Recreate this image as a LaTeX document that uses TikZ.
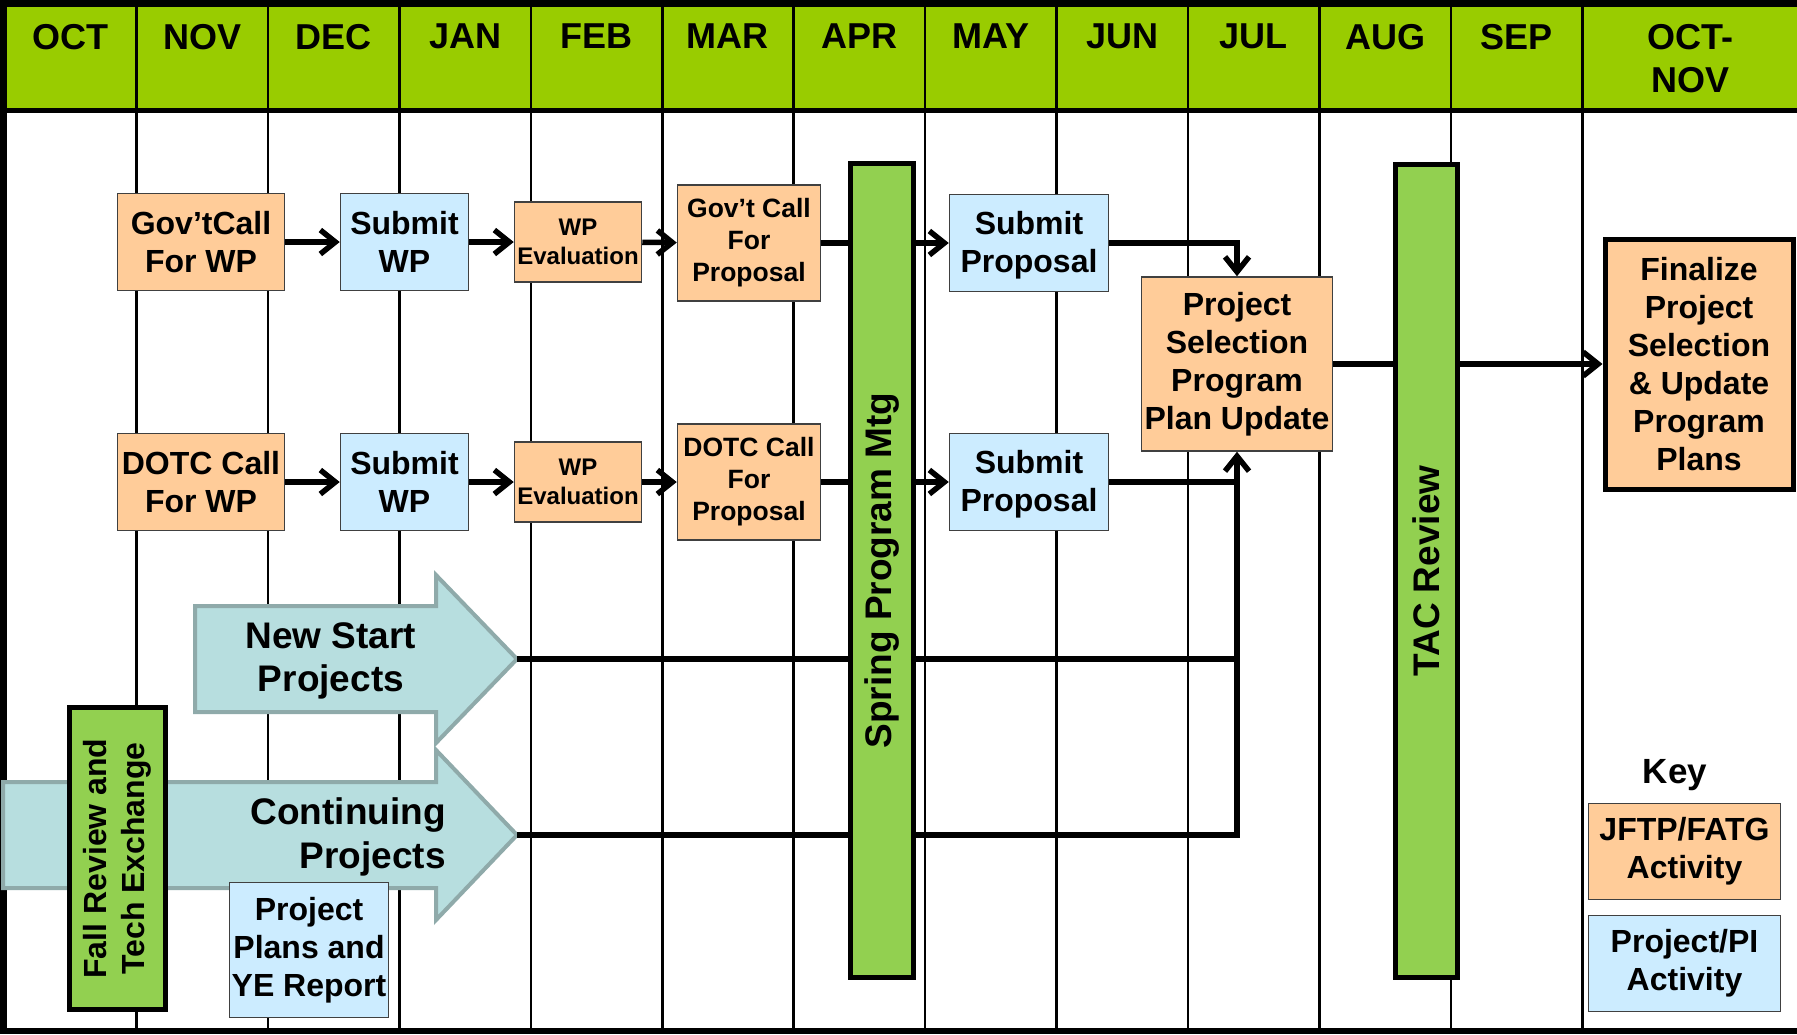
\documentclass[tikz,border=0pt]{standalone}
\usepackage{fontspec}
\setmainfont{Liberation Sans}
\usetikzlibrary{positioning,arrows.meta}

\definecolor{hdrgreen}{HTML}{99CC00}
\definecolor{bargreen}{HTML}{92D050}
\definecolor{peach}{HTML}{FFCC99}
\definecolor{skyblue}{HTML}{CCECFF}
\definecolor{arrfill}{HTML}{B7DEDF}
\definecolor{arredge}{HTML}{8FAAAA}
\definecolor{boxedge}{HTML}{404040}

\begin{document}
\begin{tikzpicture}[
  x=1pt, y=-1pt,
  >={Straight Barb[length=15pt, width=24pt]},
  month/.style={anchor=north, inner sep=0pt, align=center, font=\bfseries\fontsize{36}{43.5}\selectfont},
  task/.style={rectangle, draw=boxedge, line width=1.5pt, align=center, inner sep=0pt, font=\bfseries\fontsize{32}{38}\selectfont},
  jftpbox/.style={task, fill=peach},
  pibox/.style={task, fill=skyblue},
  evalbox/.style={jftpbox, minimum width=127pt, minimum height=80pt, font=\bfseries\fontsize{24}{28.5}\selectfont},
  propcall/.style={jftpbox, minimum width=143pt, minimum height=116pt, font=\bfseries\fontsize{26.5}{32}\selectfont},
  mtg/.style={rectangle, draw, line width=5pt, fill=bargreen, rotate=90, align=center, inner sep=0pt, font=\bfseries\fontsize{37}{38}\selectfont},
  bigarrow/.style={draw=arredge, fill=arrfill, line width=4pt},
  bigtext/.style={inner sep=0pt, font=\bfseries\fontsize{37}{43.5}\selectfont},
  conn/.style={line width=5.5pt},
  connarr/.style={conn, ->},
]
  \useasboundingbox (0,0) rectangle (1797,1034);

  % header and month grid
  \fill[white] (0,0) rectangle (1797,1034);
  \fill[hdrgreen] (0,0) rectangle (1797,110);
  \foreach \k in {1,...,12}
    \draw[line width=2.5pt] ({5+131.45*\k},0) -- ({5+131.45*\k},1031);
  \draw[line width=7pt] (1797,3) -- (0,3);
  \draw[line width=7pt] (3.5,0) -- (3.5,1034);
  \draw[line width=5.5pt] (0,1031) -- (1797,1031);
  \draw[line width=5pt] (0,110.5) -- (1797,110.5);

  \foreach \m [count=\i from 0] in {OCT,NOV,DEC,JAN,FEB,MAR,APR,MAY,JUN,JUL,AUG,SEP}
    \node[month] (m\i) at ({5+131.45*(\i+0.5)},24) {\m};
  \node[month] (m12) at (1690,24) {OCT-\\NOV};

  % Gov't row
  \node[jftpbox, minimum width=167pt, minimum height=97pt] (callwpA) at (201,242) {Gov’tCall\\For WP};
  \node[pibox, minimum width=128pt, minimum height=97pt] (subwpA) at (404.5,242) {Submit\\WP};
  \node[evalbox] (evalA) at (578,242) {WP\\Evaluation};
  \node[propcall] (callpropA) at (749,243) {Gov’t Call\\For\\Proposal};
  \node[pibox, minimum width=159pt, minimum height=97pt, text depth=2pt] (propA) at (1029,243) {Submit\\Proposal};

  % DOTC row
  \node[jftpbox, minimum width=167pt, minimum height=97pt] (callwpB) at (201,482) {DOTC Call\\For WP};
  \node[pibox, minimum width=128pt, minimum height=97pt] (subwpB) at (404.5,482) {Submit\\WP};
  \node[evalbox] (evalB) at (578,482) {WP\\Evaluation};
  \node[propcall] (callpropB) at (749,482) {DOTC Call\\For\\Proposal};
  \node[pibox, minimum width=159pt, minimum height=97pt, text depth=2pt] (propB) at (1029,482) {Submit\\Proposal};

  % selection and finalize
  \node[jftpbox, minimum width=191pt, minimum height=174pt] (select) at (1237,364) {Project\\Selection\\Program\\Plan Update};
  \node[jftpbox, draw=black, line width=5pt, minimum width=188pt, minimum height=250pt] (final) at (1699,364) {Finalize\\Project\\Selection\\\& Update\\Program\\Plans};

  % project streams
  \draw[bigarrow] (195,606) -- (436,606) -- (436,575) -- (517,659) -- (436,743) -- (436,712) -- (195,712) -- cycle;
  \coordinate (newtip) at (517,659);
  \node[bigtext, align=center] (newstart) at (331,661) {New Start\\Projects};
  \draw[bigarrow] (3,782) -- (436,782) -- (436,750) -- (517,835) -- (436,920) -- (436,888) -- (3,888) -- cycle;
  \coordinate (conttip) at (517,835);
  \node[bigtext, align=right, anchor=east] (contproj) at (446,837) {Continuing\\Projects};

  % connectors
  \foreach \a/\b in {callwpA/subwpA, subwpA/evalA, evalA/callpropA, callpropA/propA,
                     callwpB/subwpB, subwpB/evalB, evalB/callpropB, callpropB/propB}
    \draw[connarr] (\a) -- (\b);
  \draw[connarr] (propA.east) -| (select.north);
  \draw[conn] (propB.east) -- (propB.east -| select.south);
  \draw[conn] (newtip) -- (newtip -| select.south);
  \draw[connarr] (conttip) -| (select.south);
  \draw[connarr] (select) -- (final);

  % meetings
  \node[mtg, minimum width=814pt, minimum height=63pt] (spring) at (882,570.5) {Spring Program Mtg};
  \node[mtg, minimum width=813pt, minimum height=62pt] (tac) at (1426,571) {TAC Review};
  \node[mtg, minimum width=302pt, minimum height=96pt, font=\bfseries\fontsize{32}{38}\selectfont] (fall) at (117,858.5) {Fall Review and\\Tech Exchange};
  \node[pibox, minimum width=159pt, minimum height=135pt] (plans) at (309,950) {Project\\Plans and\\YE Report};

  % key
  \node[bigtext, font=\bfseries\fontsize{35}{40}\selectfont] (key) at (1675,775) {Key};
  \node[jftpbox, minimum width=192pt, minimum height=96pt] (keyjftp) at (1684.5,851.5) {JFTP/FATG\\Activity};
  \node[pibox, minimum width=192pt, minimum height=96pt] (keypi) at (1684.5,963.5) {Project/PI\\Activity};
\end{tikzpicture}
\end{document}
